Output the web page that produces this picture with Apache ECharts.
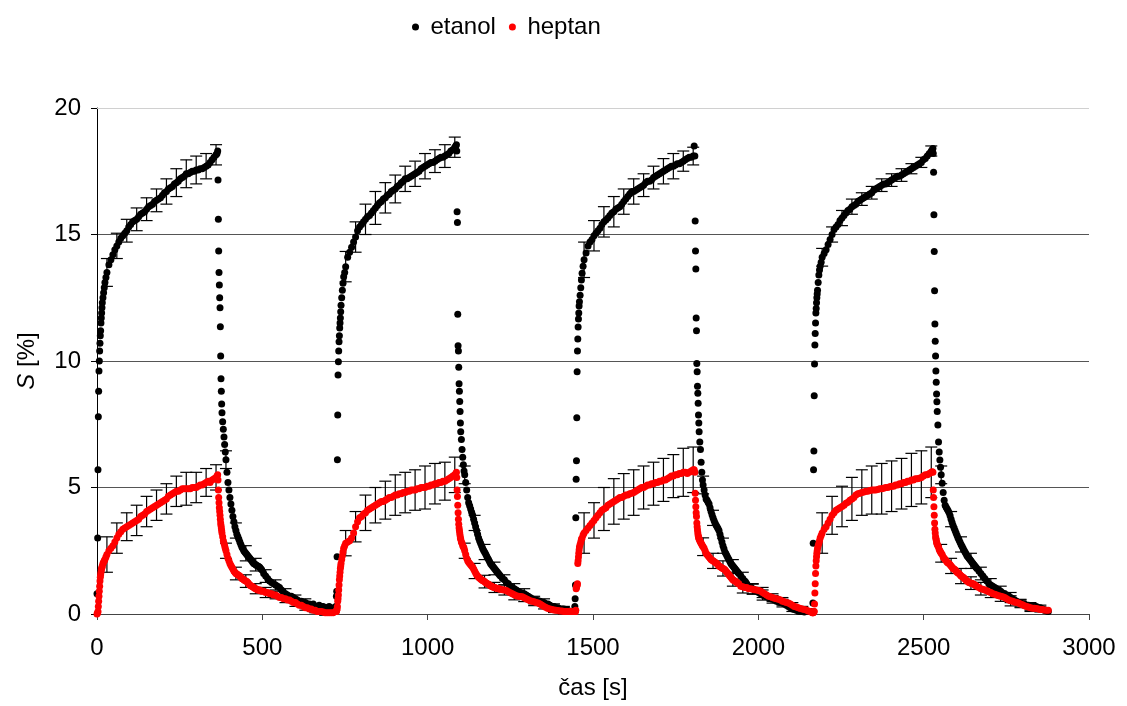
<!DOCTYPE html>
<html>
<head>
<meta charset="utf-8">
<script src="https://cdn.jsdelivr.net/npm/echarts@6/dist/echarts.min.js"></script>
<style>html,body{margin:0;padding:0;background:#fff}#c{width:1127px;height:706px}</style>
</head>
<body>
<div id="c"></div>
<script>
// relative time within one cycle (s)
const T = [0,2,3,4,5,6,7,8,9,10,11,12,13,14,15,16,18,20,22,24,27,30,
36,42,48,54,60,66,72,78,84,90,96,102,108,114,120,126,132,138,144,150,156,162,168,174,180,186,192,198,204,210,216,222,228,234,240,246,252,258,264,270,276,282,288,294,300,306,312,318,324,330,336,342,348,354,360,
363,365,366,367,368,369,370,371,372,373,374,375,376,377,378,380,382,384,386,388,390,393,396,399,
402,408,414,420,426,432,438,444,450,456,462,468,474,480,486,492,498,504,510,516,522,528,534,540,546,552,558,564,570,576,582,588,594,600,606,612,618,624,630,636,642,648,654,660,666,672,678,684,690,696,702,708,714];
// extra samples in the early decay (relative s)
const Tmid = [405,411,417,423,429,435,441,447,453,459,465,471,477,483,489,495];
const cycleStart = [0, 722, 1443, 2163];

const etanol1 = [0.8,3.0,5.7,7.8,8.8,9.6,10.0,10.4,10.7,11.0,11.2,11.5,11.7,11.9,12.1,12.3,12.5,12.7,12.9,13.1,13.3,13.5,
13.8,14.0,14.2,14.4,14.55,14.7,14.85,14.95,15.05,15.15,15.3,15.4,15.5,15.55,15.6,15.7,15.8,15.85,15.9,16.0,16.1,16.15,16.2,16.3,16.35,16.4,16.45,16.55,16.65,16.7,16.8,16.85,16.9,17.0,17.05,17.1,17.2,17.25,17.3,17.4,17.4,17.45,17.5,17.5,17.55,17.55,17.6,17.6,17.65,17.7,17.75,17.85,17.95,18.05,18.15,
18.2,18.3,17.15,15.6,14.35,13.5,13.0,12.5,12.1,11.35,10.2,9.3,8.8,8.3,7.95,7.6,7.3,7.0,6.7,6.4,6.1,5.6,5.2,4.9,
4.6,4.1,3.65,3.3,3.05,2.85,2.65,2.5,2.4,2.3,2.2,2.1,2.0,1.95,1.9,1.85,1.75,1.6,1.5,1.4,1.3,1.25,1.2,1.15,1.1,1.05,0.95,0.85,0.8,0.75,0.7,0.7,0.65,0.6,0.55,0.5,0.5,0.45,0.45,0.4,0.4,0.35,0.4,0.3,0.3,0.35,0.3,0.3,0.25,0.25,0.3,0.25,0.2];
const etanol2 = [0.3,0.7,0.9,2.26,6.1,7.87,9.45,9.97,10.4,10.76,11.0,11.3,11.5,11.7,11.95,12.2,12.5,12.8,13.07,13.33,13.5,13.73,
14.1,14.3,14.5,14.7,14.9,15.15,15.3,15.4,15.5,15.6,15.7,15.75,15.85,15.95,16.05,16.15,16.25,16.3,16.4,16.45,16.55,16.6,16.7,16.75,16.8,16.9,16.95,17.05,17.1,17.2,17.2,17.25,17.3,17.35,17.4,17.45,17.5,17.6,17.65,17.7,17.75,17.8,17.85,17.85,17.9,17.95,18.0,18.05,18.05,18.1,18.15,18.2,18.3,18.35,18.45,
18.5,18.55,18.3,15.9,15.47,11.85,10.6,10.4,9.75,9.1,8.8,8.4,8.0,7.55,7.2,6.9,6.5,6.2,5.9,5.65,5.5,5.2,4.9,4.6,
4.4,4.15,3.9,3.6,3.3,3.0,2.8,2.6,2.45,2.3,2.15,2.0,1.9,1.8,1.7,1.6,1.5,1.4,1.35,1.25,1.2,1.1,1.05,1.0,0.95,0.9,0.85,0.83,0.8,0.75,0.7,0.65,0.6,0.55,0.55,0.5,0.5,0.45,0.45,0.4,0.4,0.35,0.3,0.3,0.25,0.25,0.2,0.2,0.2,0.15,0.15,0.1,0.1];
const etanol3 = [0.1,0.3,0.6,1.15,3.8,5.33,6.06,7.76,9.58,10.4,10.87,11.34,11.66,11.9,12.17,12.34,12.6,12.9,13.2,13.47,13.75,14.0,
14.27,14.55,14.7,14.8,14.95,15.05,15.15,15.25,15.4,15.5,15.57,15.65,15.75,15.85,15.9,16.0,16.05,16.1,16.2,16.3,16.4,16.5,16.6,16.7,16.7,16.75,16.8,16.85,16.9,16.95,17.05,17.1,17.1,17.15,17.25,17.3,17.35,17.4,17.45,17.5,17.55,17.6,17.65,17.7,17.7,17.75,17.8,17.8,17.85,17.9,17.95,18.0,18.05,18.05,18.1,
18.5,18.1,15.53,14.35,13.64,11.7,11.2,9.9,9.58,9.0,8.73,8.33,7.87,7.55,7.2,6.8,6.5,6.0,5.6,5.3,5.1,4.9,4.7,4.55,
4.5,4.35,4.05,3.8,3.6,3.45,3.3,3.0,2.7,2.45,2.3,2.15,2.0,1.9,1.8,1.7,1.6,1.5,1.4,1.3,1.2,1.1,1.05,1.0,0.95,0.9,0.85,0.8,0.75,0.7,0.68,0.65,0.6,0.58,0.55,0.5,0.48,0.45,0.43,0.4,0.35,0.3,0.25,0.2,0.18,0.15,0.12,0.1,0.1,0.08,0.1,0.1,0.1];
const etanol4 = [0.1,0.43,2.8,5.7,6.44,8.63,9.88,10.63,11.09,11.5,11.9,12.08,12.3,12.5,12.65,12.8,13.1,13.4,13.6,13.75,13.9,14.1,
14.25,14.4,14.6,14.8,15.0,15.2,15.3,15.4,15.55,15.65,15.75,15.85,15.95,16.0,16.1,16.15,16.2,16.3,16.35,16.4,16.45,16.5,16.55,16.6,16.65,16.75,16.8,16.85,16.9,16.95,17.0,17.0,17.05,17.1,17.15,17.2,17.25,17.3,17.3,17.35,17.4,17.45,17.5,17.55,17.6,17.65,17.7,17.75,17.8,17.85,17.95,18.0,18.1,18.2,18.3,
18.35,18.4,18.2,17.46,15.78,14.33,12.78,11.46,10.78,10.2,9.6,9.16,8.7,8.39,8.0,7.47,6.8,6.4,6.09,5.8,5.5,5.17,4.8,4.5,
4.3,4.15,4.0,3.75,3.5,3.3,3.1,2.92,2.75,2.6,2.45,2.3,2.2,2.1,2.0,1.9,1.8,1.7,1.6,1.5,1.4,1.3,1.2,1.15,1.1,1.05,1.0,0.95,0.9,0.83,0.8,0.75,0.7,0.65,0.6,0.55,0.5,0.45,0.43,0.4,0.4,0.35,0.35,0.3,0.3,0.3,0.3,0.25,0.25,0.2,0.15,0.12,0.1];

const heptan1 = [0.0,0.05,0.1,0.3,0.5,0.7,0.9,1.1,1.3,1.45,1.55,1.65,1.75,1.8,1.85,1.9,2.0,2.05,2.1,2.15,2.25,2.35,
2.5,2.6,2.7,2.85,3.0,3.15,3.25,3.35,3.4,3.45,3.5,3.55,3.6,3.65,3.7,3.75,3.85,3.9,3.95,4.05,4.1,4.15,4.2,4.25,4.3,4.35,4.4,4.45,4.5,4.55,4.65,4.7,4.75,4.8,4.85,4.85,4.9,4.95,4.95,4.95,4.95,4.95,5.0,5.0,5.0,5.05,5.1,5.1,5.15,5.2,5.25,5.2,5.3,5.35,5.4,
5.45,5.5,5.3,4.9,4.6,4.4,4.2,4.05,3.9,3.75,3.6,3.5,3.4,3.3,3.2,3.05,2.9,2.8,2.7,2.6,2.5,2.35,2.2,2.1,
2.0,1.85,1.7,1.6,1.55,1.5,1.4,1.35,1.3,1.25,1.15,1.1,1.05,1.0,0.95,0.95,0.9,0.9,0.85,0.85,0.8,0.8,0.75,0.75,0.7,0.65,0.65,0.6,0.6,0.55,0.55,0.5,0.45,0.45,0.4,0.35,0.35,0.3,0.25,0.25,0.2,0.2,0.15,0.15,0.1,0.1,0.1,0.08,0.05,0.05,0.05,0.05,0.05];
const heptan2 = [0.1,0.1,0.15,0.2,0.3,0.5,0.6,0.75,0.95,1.15,1.35,1.5,1.65,1.8,1.9,2.0,2.15,2.3,2.45,2.6,2.7,2.8,
2.85,2.9,3.0,3.2,3.45,3.65,3.8,3.85,3.95,4.0,4.1,4.15,4.2,4.25,4.3,4.35,4.4,4.45,4.45,4.5,4.55,4.6,4.6,4.65,4.7,4.7,4.75,4.75,4.8,4.8,4.85,4.85,4.9,4.9,4.9,4.95,4.95,5.0,5.0,5.0,5.05,5.05,5.1,5.1,5.15,5.15,5.2,5.2,5.25,5.25,5.3,5.35,5.4,5.45,5.5,
5.55,5.6,5.4,4.9,4.64,4.3,4.0,3.75,3.55,3.4,3.3,3.2,3.1,3.0,2.95,2.85,2.8,2.7,2.66,2.6,2.5,2.35,2.2,2.1,
2.05,1.95,1.85,1.7,1.55,1.45,1.38,1.32,1.28,1.22,1.18,1.12,1.08,1.05,1.02,1.0,0.98,0.96,0.95,0.93,0.88,0.84,0.8,0.76,0.72,0.7,0.69,0.68,0.64,0.6,0.56,0.52,0.5,0.48,0.45,0.43,0.4,0.35,0.3,0.26,0.22,0.2,0.18,0.16,0.15,0.14,0.12,0.12,0.1,0.1,0.1,0.1,0.1];
const heptan3 = [0.1,0.1,0.1,0.1,0.15,1.0,1.05,1.1,1.15,1.2,2.0,2.1,2.25,2.4,2.53,2.65,2.75,2.85,2.95,3.0,3.12,3.2,
3.3,3.4,3.5,3.6,3.7,3.8,3.9,4.0,4.1,4.15,4.2,4.3,4.35,4.4,4.45,4.5,4.55,4.6,4.6,4.65,4.7,4.7,4.75,4.77,4.8,4.85,4.9,4.95,5.0,5.0,5.05,5.1,5.1,5.15,5.15,5.2,5.2,5.25,5.25,5.3,5.3,5.35,5.4,5.45,5.45,5.5,5.5,5.55,5.55,5.6,5.6,5.55,5.6,5.65,5.7,
5.7,5.6,4.77,4.5,4.24,4.0,3.85,3.6,3.45,3.32,3.2,3.1,3.05,3.0,2.95,2.9,2.85,2.8,2.75,2.7,2.66,2.6,2.5,2.4,
2.35,2.25,2.15,2.1,2.05,2.0,1.9,1.85,1.8,1.75,1.65,1.55,1.45,1.35,1.3,1.25,1.2,1.1,1.08,1.05,1.05,1.0,1.0,0.98,0.96,0.95,0.93,0.9,0.85,0.8,0.75,0.7,0.68,0.65,0.62,0.6,0.58,0.55,0.5,0.48,0.45,0.43,0.4,0.35,0.3,0.28,0.25,0.22,0.2,0.18,0.16,0.12,0.1];
const heptan4 = [0.05,0.05,0.05,0.08,0.1,0.1,0.4,0.83,1.2,1.6,1.9,2.1,2.26,2.4,2.5,2.6,2.7,2.8,2.9,3.0,3.1,3.2,
3.35,3.45,3.6,3.75,3.9,4.0,4.1,4.15,4.2,4.25,4.3,4.38,4.42,4.5,4.55,4.6,4.7,4.75,4.77,4.8,4.82,4.85,4.85,4.88,4.9,4.9,4.9,4.92,4.95,4.95,4.97,5.0,5.0,5.03,5.05,5.05,5.1,5.1,5.15,5.15,5.2,5.2,5.25,5.25,5.3,5.3,5.35,5.35,5.37,5.4,5.45,5.5,5.5,5.55,5.6,
5.62,5.6,4.9,4.6,4.24,3.9,3.6,3.35,3.2,3.05,2.98,2.92,2.85,2.8,2.75,2.7,2.65,2.55,2.5,2.45,2.4,2.35,2.25,2.2,
2.15,2.05,2.0,1.9,1.8,1.75,1.65,1.6,1.5,1.45,1.38,1.3,1.25,1.22,1.2,1.15,1.1,1.05,1.0,0.98,0.95,0.92,0.88,0.85,0.8,0.78,0.75,0.72,0.7,0.68,0.65,0.6,0.55,0.52,0.5,0.47,0.45,0.43,0.4,0.37,0.33,0.3,0.28,0.25,0.23,0.23,0.22,0.2,0.18,0.18,0.16,0.15,0.15];

// values at Tmid
const etanolMid1 = [4.35,3.85,3.45,3.15,2.95,2.75,2.58,2.45,2.35,2.25,2.15,2.05,1.98,1.92,1.88,1.8];
const etanolMid2 = [4.28,4.02,3.75,3.45,3.15,2.9,2.7,2.52,2.38,2.22,2.08,1.95,1.85,1.75,1.65,1.55];
const etanolMid3 = [4.42,4.2,3.92,3.7,3.52,3.38,3.15,2.85,2.58,2.38,2.22,2.08,1.95,1.85,1.75,1.65];
const etanolMid4 = [4.22,4.08,3.88,3.62,3.4,3.2,3.0,2.84,2.68,2.52,2.38,2.25,2.15,2.05,1.95,1.85];
const heptanMid1 = [1.92,1.78,1.65,1.58,1.52,1.45,1.38,1.32,1.28,1.2,1.12,1.08,1.02,0.98,0.95,0.92];
const heptanMid2 = [2.0,1.9,1.78,1.62,1.5,1.42,1.35,1.3,1.25,1.2,1.15,1.1,1.06,1.04,1.01,0.99];
const heptanMid3 = [2.3,2.2,2.12,2.08,2.02,1.95,1.88,1.82,1.78,1.7,1.6,1.5,1.4,1.32,1.28,1.22];
const heptanMid4 = [2.1,2.02,1.95,1.85,1.78,1.7,1.62,1.55,1.48,1.42,1.34,1.28,1.24,1.21,1.18,1.12];

// error bars: relative times and half-widths
const errT = [30,60,90,120,150,180,210,240,270,300,330,360,390,420,450,480,510,540,570,600,630,660,690];
const etanolErr1 = [0.55,0.5,0.45,0.45,0.45,0.45,0.5,0.55,0.55,0.55,0.5,0.4,0.35,0.3,0.3,0.25,0.25,0.2,0.2,0.15,0.15,0.1,0.1];
const etanolErr2 = [0.6,0.6,0.6,0.65,0.6,0.55,0.5,0.5,0.5,0.45,0.45,0.4,0.35,0.3,0.3,0.25,0.2,0.2,0.2,0.15,0.15,0.1,0.1];
const etanolErr3 = [0.7,0.6,0.6,0.6,0.5,0.5,0.45,0.45,0.5,0.5,0.4,0.35,0.35,0.3,0.3,0.25,0.25,0.2,0.2,0.15,0.15,0.1,0.1];
const etanolErr4 = [0.35,0.3,0.3,0.3,0.25,0.25,0.25,0.25,0.25,0.2,0.2,0.2,0.35,0.3,0.3,0.3,0.25,0.25,0.2,0.2,0.15,0.15,0.1];
const heptanErr1 = [0.7,0.6,0.55,0.6,0.6,0.6,0.6,0.6,0.65,0.6,0.55,0.5,0.3,0.25,0.25,0.2,0.2,0.15,0.15,0.15,0.1,0.1,0.1];
const heptanErr2 = [0.5,0.6,0.7,0.7,0.75,0.8,0.8,0.8,0.85,0.8,0.75,0.7,0.3,0.3,0.25,0.2,0.2,0.2,0.15,0.15,0.1,0.1,0.1];
const heptanErr3 = [0.8,0.7,0.85,0.9,0.9,0.9,0.85,0.85,0.85,0.85,0.95,0.9,0.35,0.3,0.3,0.25,0.25,0.2,0.2,0.15,0.15,0.1,0.1];
const heptanErr4 = [0.8,0.75,0.8,0.85,0.9,0.95,1.0,1.0,1.0,1.05,1.05,1.0,0.35,0.3,0.3,0.25,0.25,0.2,0.2,0.2,0.15,0.15,0.1];

const xTicks = {min: 0, max: 3000, interval: 500};
const yTicks = {min: 0, max: 20, interval: 5};

const etanolCycles = [etanol1, etanol2, etanol3, etanol4];
const heptanCycles = [heptan1, heptan2, heptan3, heptan4];
const etanolMids = [etanolMid1, etanolMid2, etanolMid3, etanolMid4];
const heptanMids = [heptanMid1, heptanMid2, heptanMid3, heptanMid4];
const etanolErrs = [etanolErr1, etanolErr2, etanolErr3, etanolErr4];
const heptanErrs = [heptanErr1, heptanErr2, heptanErr3, heptanErr4];

function points(cycles, mids) {
  const out = [];
  cycles.forEach((vals, c) => {
    vals.forEach((v, i) => out.push([cycleStart[c] + T[i], v]));
    mids[c].forEach((v, i) => out.push([cycleStart[c] + Tmid[i], v]));
  });
  return out;
}
function bars(cycles, errs) {
  const out = [];
  cycles.forEach((vals, c) => errT.forEach((t, j) => {
    const v = vals[T.indexOf(t)];
    out.push([cycleStart[c] + t, v - errs[c][j], v + errs[c][j]]);
  }));
  return out;
}

const FONT = 'Liberation Sans, Arial, sans-serif';
const chart = echarts.init(document.getElementById('c'), null, {renderer: 'canvas'});

function renderBar(params, api) {
  const lo = api.coord([api.value(0), api.value(1)]);
  const hi = api.coord([api.value(0), api.value(2)]);
  const w = 6;
  const st = {stroke: '#000', lineWidth: 1.2};
  return {type: 'group', children: [
    {type: 'line', shape: {x1: lo[0], y1: lo[1], x2: hi[0], y2: hi[1]}, style: st},
    {type: 'line', shape: {x1: lo[0] - w, y1: lo[1], x2: lo[0] + w, y2: lo[1]}, style: st},
    {type: 'line', shape: {x1: hi[0] - w, y1: hi[1], x2: hi[0] + w, y2: hi[1]}, style: st}
  ]};
}

chart.setOption({
  animation: false,
  backgroundColor: '#fff',
  grid: {left: 97, right: 38, top: 108, bottom: 92},
  legend: {
    left: 407, top: 10,
    icon: 'circle', itemWidth: 20, itemHeight: 7, itemGap: 13,
    textStyle: {fontFamily: FONT, fontSize: 24, color: '#000'},
    data: ['etanol', 'heptan']
  },
  xAxis: {
    type: 'value', min: xTicks.min, max: xTicks.max, interval: xTicks.interval,
    name: 'čas [s]', nameLocation: 'middle', nameGap: 62,
    nameTextStyle: {fontFamily: FONT, fontSize: 24, color: '#000'},
    axisLine: {show: true, lineStyle: {color: '#444', width: 1}},
    axisTick: {show: true, length: 6, lineStyle: {color: '#444'}},
    axisLabel: {fontFamily: FONT, fontSize: 24, color: '#000', margin: 22, formatter: v => String(v)},
    splitLine: {show: false}
  },
  yAxis: {
    type: 'value', min: yTicks.min, max: yTicks.max, interval: yTicks.interval,
    name: '{i|S} [%]', nameLocation: 'middle', nameGap: 58, nameRotate: 90,
    nameTextStyle: {fontFamily: FONT, fontSize: 24, color: '#000',
      rich: {i: {fontFamily: FONT, fontSize: 24, fontStyle: 'italic', color: '#000'}}},
    axisLine: {show: true, lineStyle: {color: '#000', width: 1}},
    axisTick: {show: true, length: 6, lineStyle: {color: '#000'}},
    axisLabel: {fontFamily: FONT, fontSize: 24, color: '#000', margin: 16, formatter: v => String(v)},
    splitLine: {show: true, showMaxLine: false, lineStyle: {color: '#555', width: 1}}
  },
  series: [
    {type: 'custom', name: 'errE', renderItem: renderBar, data: bars(etanolCycles, etanolErrs),
      encode: {x: 0, y: [1, 2]}, z: 1, silent: true,
      markLine: {silent: true, symbol: 'none', label: {show: false},
        lineStyle: {color: '#d0d0d0', type: 'solid', width: 1}, data: [{yAxis: 20}]}},
    {type: 'custom', name: 'errH', renderItem: renderBar, data: bars(heptanCycles, heptanErrs),
      encode: {x: 0, y: [1, 2]}, z: 1, silent: true},
    {type: 'scatter', name: 'etanol', data: points(etanolCycles, etanolMids), symbol: 'circle', symbolSize: 7,
      itemStyle: {color: '#000', opacity: 1}, z: 3},
    {type: 'scatter', name: 'heptan', data: points(heptanCycles, heptanMids), symbol: 'circle', symbolSize: 7,
      itemStyle: {color: '#ff0000', opacity: 1}, z: 4}
  ]
});
</script>
</body>
</html>
